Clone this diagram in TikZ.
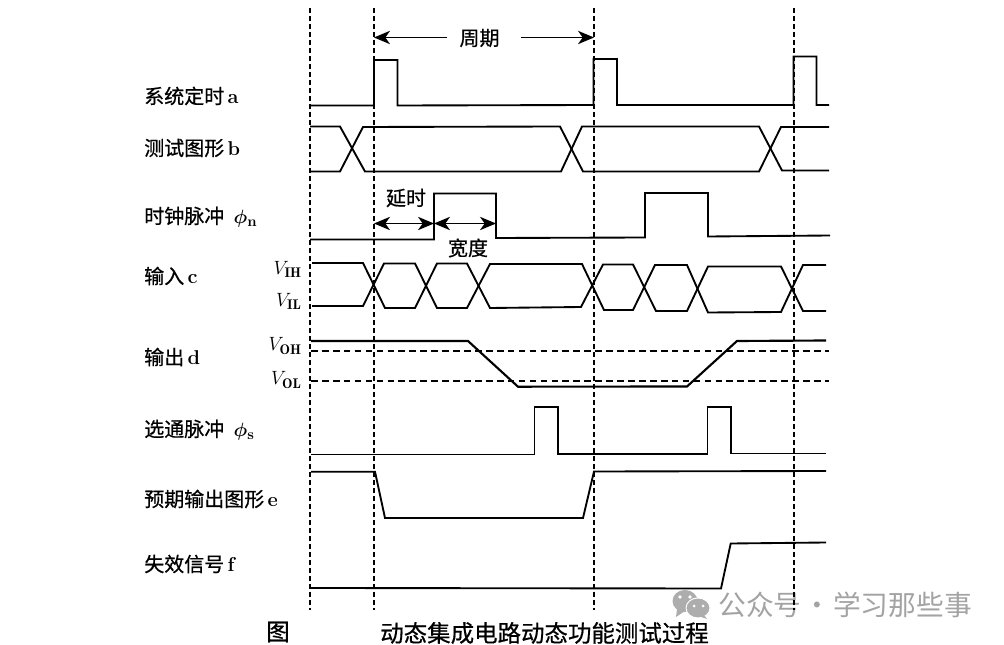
\documentclass[tikz,border=0pt]{standalone}
\usepackage{fontspec}
\usepackage{tikz}
\usetikzlibrary{arrows.meta}
\newfontfamily\cjk[RawFeature={embolden=0.6}]{Noto Sans CJK SC}
\newfontfamily\cjklight{Noto Sans CJK SC}
\tikzset{
    lab/.style={anchor=west, inner sep=0, font=\cjk\fontsize{15}{16}\selectfont},
    volt/.style={anchor=east, inner sep=0, font=\fontsize{15}{16}\selectfont},
    note/.style={inner sep=0, font=\cjk\fontsize{15}{16}\selectfont},
    capt/.style={anchor=west, inner sep=0, font=\cjk\fontsize{17.6}{20}\selectfont},
    mark text/.style={anchor=west, inner sep=0, text=black!36, font=\cjklight\fontsize{20.8}{22}\selectfont},
    sig/.style={line width=1.4pt, line join=miter},
    guide/.style={line width=1.1pt, dash pattern=on 3.8pt off 2.2pt},
    level/.style={line width=1.5pt, dash pattern=on 5pt off 3.2pt},
    span/.style={line width=1.1pt, {Stealth[length=12pt, width=10pt, inset=3.5pt]}-{Stealth[length=12pt, width=10pt, inset=3.5pt]}},
    toward/.style={line width=1.1pt, -{Stealth[length=12pt, width=10pt, inset=3.5pt]}}
}
\begin{document}
\begin{tikzpicture}[x=0.75pt, y=-0.75pt]
        \useasboundingbox (0, 0) rectangle (1004, 645);
        \coordinate (pl) at (447, 37.5);
        \coordinate (pr) at (521, 37.5);
        \coordinate (t1) at (374, 37.5);
        \coordinate (t2) at (594, 37.5);
        \coordinate (d1) at (374, 223.5);
        \coordinate (d2) at (434, 223.5);
        \coordinate (d3) at (496, 223.5);
        \fill[black!32] (685, 601) ellipse [x radius=12.5, y radius=11];
        \fill[black!32] (677, 609) -- (676, 617) -- (685, 611) -- cycle;
        \fill[black!32, draw=white, line width=0.7pt] (698, 608) ellipse [x radius=12, y radius=10];
        \fill[black!32] (704, 615) -- (707, 619) -- (698, 616) -- cycle;
        \fill[white] (680, 597) circle [radius=1.8];
        \fill[white] (690, 597) circle [radius=1.8];
        \fill[white] (694, 606) circle [radius=1.5];
        \fill[white] (703, 606) circle [radius=1.5];
        \node(wm) [mark text] at (718, 605) {公众号\hspace{1.5pt}·\hspace{1.5pt}学习那些事};
        \draw[guide] (310, 8) -- (310, 610);
        \draw[guide] (374, 8) -- (374, 610);
        \draw[guide] (594, 8) -- (594, 610);
        \draw[guide] (794, 8) -- (794, 610);
        \node(period) [note] at (479.5, 38) {周期};
        \draw[toward] (pl) -- (t1);
        \draw[toward] (pr) -- (t2);
        \node(la) [lab] at (144, 96) {系统定时{\rmfamily\bfseries\,a}};
        \draw[sig] (310, 105.5) -- (374, 105.5) -- (374, 60) -- (397.5, 60) -- (397.5, 105.5) -- (593.5, 105) -- (593.5, 59) -- (617, 59) -- (617, 105) -- (793.5, 105) -- (793.5, 56.5) -- (816.5, 56.5) -- (816.5, 105) -- (829, 105);
        \node(lb) [lab] at (144, 148) {测试图形{\rmfamily\bfseries\,b}};
        \draw[sig] (310, 126.5) -- (340, 126.5) -- (365, 171.5) -- (561, 171.5) -- (582, 126.5) -- (759, 126.5) -- (782, 170.5) -- (829, 170.5);
        \draw[sig] (310, 171.5) -- (340, 171.5) -- (363, 127) -- (560, 126.5) -- (583, 171.5) -- (759, 171.5) -- (781, 127) -- (829, 127);
        \node(ln) [lab] at (144, 217) {时钟脉冲\hspace{7pt}{\boldmath$\phi_{\mathbf{n}}$}};
        \draw[sig] (310, 239.5) -- (434, 239.5) -- (434, 193.5) -- (496, 193.5) -- (496, 238) -- (645, 237.5) -- (645, 193) -- (708, 193) -- (708, 236.5) -- (830, 235.5);
        \draw[span] (d1) -- (d2);
        \draw[span] (d2) -- (d3);
        \node(delay) [note] at (406, 198) {延时};
        \node(width) [note] at (468, 248) {宽度};
        \node(lc) [lab] at (144, 276) {输入{\rmfamily\bfseries\,c}};
        \node(vih) [volt] at (302, 269) {$V_{\mathbf{IH}}$};
        \node(vil) [volt] at (302, 301) {$V_{\mathbf{IL}}$};
        \draw[sig] (312, 263) -- (363, 263) -- (385, 308) -- (415, 308) -- (437, 263.5) -- (467, 263.5) -- (490, 308) -- (581, 307) -- (603, 264.5) -- (633, 264.5) -- (656, 311) -- (687, 311) -- (708, 266.5) -- (781, 266.5) -- (803, 311) -- (826, 311);
        \draw[sig] (312, 306) -- (363, 306) -- (384, 263.5) -- (415, 263.5) -- (437, 308) -- (467, 308) -- (490, 264) -- (582, 264) -- (604, 310) -- (633, 310) -- (655, 265) -- (687, 265) -- (708, 312.5) -- (781, 312) -- (803, 265) -- (826, 265);
        \node(ld) [lab] at (144, 357) {输出{\rmfamily\bfseries\,d}};
        \node(voh) [volt] at (302, 346) {$V_{\mathbf{OH}}$};
        \node(vol) [volt] at (302, 380) {$V_{\mathbf{OL}}$};
        \draw[level] (311, 351.5) -- (829, 351.5);
        \draw[level] (311, 381.5) -- (829, 381.5);
        \draw[sig, line width=1.6pt] (311, 341) -- (468, 341) -- (518, 386.7) -- (687, 386.5) -- (737, 341) -- (826, 340.5);
        \node(ls) [lab] at (144, 430) {选通脉冲\hspace{7pt}{\boldmath$\phi_{\mathbf{s}}$}};
        \draw[sig] (311, 454.5) -- (534.5, 454.5) -- (534.5, 407) -- (558, 407) -- (558, 454) -- (707.5, 454) -- (707.5, 407) -- (731, 407) -- (731, 453.5) -- (826, 453.5);
        \node(le) [lab] at (144, 499) {预期输出图形{\rmfamily\bfseries\,e}};
        \draw[sig] (311, 471.7) -- (375, 471.7) -- (385, 518) -- (583, 518) -- (594, 471.5) -- (826, 471);
        \node(lf) [lab] at (144, 564) {失效信号{\rmfamily\bfseries\,f}};
        \draw[sig] (311, 588) -- (721, 588.5) -- (730.7, 543.5) -- (826, 542.5);
        \node(fig) [capt] at (266, 632) {图};
        \node(title) [capt] at (380, 633) {动态集成电路动态功能测试过程};
    \end{tikzpicture}
\end{document}
